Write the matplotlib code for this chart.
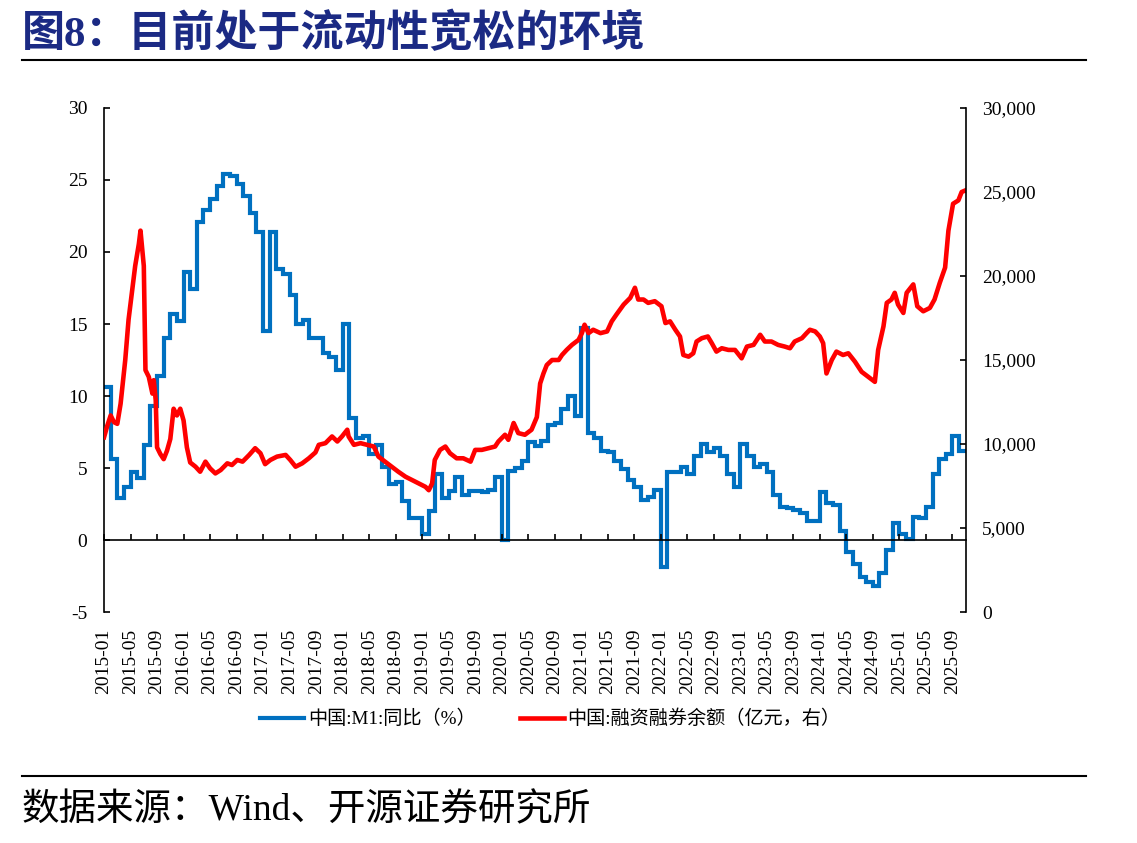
import matplotlib
matplotlib.use('Agg')
import matplotlib.pyplot as plt
from matplotlib.lines import Line2D
from matplotlib.ticker import FuncFormatter

plt.rcParams['font.family'] = ['Liberation Serif', 'Noto Sans CJK SC']
plt.rcParams['axes.unicode_minus'] = False

# 中国:M1:同比(%), monthly from 2015-01
m1_yoy = [
    10.6, 5.6, 2.9, 3.7, 4.7, 4.3, 6.6, 9.3, 11.4, 14.0, 15.7, 15.2,
    18.6, 17.4, 22.1, 22.9, 23.7, 24.6, 25.4, 25.3, 24.7, 23.9, 22.7, 21.4,
    14.5, 21.4, 18.8, 18.5, 17.0, 15.0, 15.3, 14.0, 14.0, 13.0, 12.7, 11.8,
    15.0, 8.5, 7.1, 7.2, 6.0, 6.6, 5.1, 3.9, 4.0, 2.7, 1.5, 1.5,
    0.4, 2.0, 4.6, 2.9, 3.4, 4.4, 3.1, 3.4, 3.4, 3.3, 3.5, 4.4,
    0.0, 4.8, 5.0, 5.5, 6.8, 6.5, 6.9, 8.0, 8.1, 9.1, 10.0, 8.6,
    14.7, 7.4, 7.1, 6.2, 6.1, 5.5, 4.9, 4.2, 3.7, 2.8, 3.0, 3.5,
    -1.9, 4.7, 4.7, 5.1, 4.6, 5.8, 6.7, 6.1, 6.4, 5.8, 4.6, 3.7,
    6.7, 5.8, 5.1, 5.3, 4.7, 3.1, 2.3, 2.2, 2.1, 1.9, 1.3, 1.3,
    3.3, 2.6, 2.4, 0.6, -0.8, -1.7, -2.6, -2.9, -3.2, -2.3, -0.7, 1.2,
    0.4, 0.1, 1.6, 1.5, 2.3, 4.6, 5.6, 6.0, 7.2, 6.2,
]

# 融资融券余额: time in months since 2015-01, value in 亿元
margin_t = [
    0.0, 0.5, 1.0, 1.5, 2.0, 2.5, 3.2, 3.7, 4.2, 4.7, 5.25, 5.5, 6.0, 6.25,
    6.75, 7.3, 7.5, 7.8, 8.0, 8.5, 9.0, 9.5, 10.0, 10.5, 11.0, 11.5, 12.0,
    12.5, 13.0, 13.8, 14.5, 15.3, 16.0, 16.8, 17.6, 18.6, 19.3, 20.1, 20.9,
    21.9, 22.8, 23.6, 24.3, 25.1, 26.1, 27.4, 28.1, 28.9, 29.9, 30.9, 31.9,
    32.4, 33.4, 34.4, 35.2, 35.9, 36.7, 36.9, 37.7, 38.7, 39.7, 40.7, 41.4,
    42.4, 43.4, 44.4, 45.5, 46.5, 47.5, 48.5, 49.0, 49.5, 49.9, 50.7, 51.5,
    52.2, 53.2, 54.2, 55.3, 56.0, 57.0, 58.0, 59.0, 59.5, 60.5, 61.0, 61.8,
    62.5, 63.5, 64.5, 65.3, 65.8, 66.3, 66.8, 67.6, 68.6, 69.1, 69.8, 70.6,
    71.6, 72.1, 72.5, 73.1, 73.8, 74.9, 75.9, 76.6, 77.3, 78.4, 79.4, 80.1,
    80.6, 81.4, 82.1, 83.1, 84.1, 84.7, 85.4, 86.2, 86.9, 87.4, 88.2, 88.9,
    89.4, 90.2, 91.1, 91.7, 92.4, 93.2, 94.2, 95.2, 96.2, 97.0, 98.0, 99.0,
    99.7, 100.7, 101.7, 102.7, 103.5, 104.2, 105.3, 106.0, 106.5, 107.3,
    108.0, 108.5, 109.0, 109.8, 110.5, 111.5, 112.3, 113.3, 114.3, 115.3,
    116.3, 116.8, 117.6, 118.1, 118.8, 119.3, 119.8, 120.6, 121.1, 122.1,
    122.7, 123.6, 124.6, 125.3, 126.1, 126.9, 127.4, 128.1, 128.9, 129.4, 130.0,
]
margin_v = [
    10400, 11100, 11700, 11300, 11200, 12400, 15000, 17400, 19000, 20600,
    21900, 22700, 20600, 14400, 14000, 13000, 13800, 12600, 9800, 9400, 9100,
    9600, 10300, 12100, 11700, 12100, 11400, 9800, 8900, 8650, 8350, 8950,
    8550, 8250, 8450, 8850, 8750, 9050, 8950, 9350, 9750, 9450, 8800, 9050,
    9250, 9350, 9050, 8650, 8850, 9150, 9500, 9950, 10050, 10450, 10150,
    10450, 10850, 10450, 9950, 10050, 9950, 9850, 9250, 8950, 8650, 8350,
    8050, 7850, 7650, 7450, 7250, 7650, 9050, 9650, 9850, 9450, 9150, 9150,
    8950, 9650, 9650, 9750, 9850, 10150, 10550, 10250, 11250, 10650, 10550,
    10850, 11600, 13600, 14200, 14700, 15000, 15000, 15300, 15600, 15900,
    16200, 16600, 17100, 16600, 16800, 16600, 16700, 17300, 17700, 18300,
    18700, 19300, 18600, 18600, 18400, 18500, 18200, 17200, 17300, 16800,
    16400, 15300, 15200, 15400, 16100, 16300, 16400, 16000, 15500, 15700,
    15600, 15600, 15100, 15800, 15900, 16500, 16100, 16100, 15900, 15800,
    15700, 16100, 16300, 16600, 16800, 16700, 16400, 16000, 14200, 15000,
    15500, 15300, 15400, 14900, 14300, 14000, 13700, 15600, 17000, 18400,
    18600, 19000, 18300, 17800, 19000, 19500, 18200, 17900, 18100, 18600,
    19600, 20500, 22700, 24300, 24500, 25000, 25100,
]

tick_pos = list(range(0, 129, 4))
tick_labels = ['%d-%02d' % (2015 + p // 12, p % 12 + 1) for p in tick_pos]

blue = '#0070C0'
red = '#FF0000'

fig = plt.figure(figsize=(11.37, 8.43), dpi=100)
ax = fig.add_axes([0.0915, 0.274, 0.7578, 0.5979])
ax2 = ax.twinx()

edges = list(range(len(m1_yoy) + 1))
ax.stairs(m1_yoy, edges, baseline=None, color=blue, lw=3.0)
ax2.plot(margin_t, margin_v, color=red, lw=3.3, solid_joinstyle='round')

ax.set_xlim(0, 130)
ax.set_ylim(-5, 30)
ax.set_yticks(range(-5, 31, 5))
ax2.set_ylim(0, 30000)
ax2.set_yticks(range(0, 30001, 5000))
ax2.yaxis.set_major_formatter(FuncFormatter(lambda v, p: '{:,.0f}'.format(v)))

for s in ['top', 'right']:
    ax.spines[s].set_visible(False)
for s in ['top', 'left', 'bottom']:
    ax2.spines[s].set_visible(False)
ax.spines['bottom'].set_position(('data', 0))
for sp in [ax.spines['left'], ax.spines['bottom'], ax2.spines['right']]:
    sp.set_linewidth(1.2)

ax.set_xticks(tick_pos)
ax.tick_params(axis='x', direction='in', length=4, width=1.2, labelbottom=False)
ax.tick_params(axis='y', direction='in', length=4, width=1.2, labelsize=14, pad=12)
ax2.tick_params(axis='y', direction='in', length=4, width=1.2, labelsize=14, pad=12)

sec = ax.secondary_xaxis('bottom')
sec.set_xticks(tick_pos, tick_labels, rotation=90, fontsize=14)
sec.tick_params(length=0, pad=12)
sec.spines['bottom'].set_visible(False)

handles = [Line2D([], [], color=blue, lw=3.0), Line2D([], [], color=red, lw=3.3)]
fig.legend(handles, ['中国:M1:同比（%）', '中国:融资融券余额（亿元，右）'],
           loc='center', bbox_to_anchor=(0.484, 0.147), ncol=2, frameon=False,
           fontsize=13.8, handlelength=2.3, handletextpad=0.2, columnspacing=2.3)

fig.text(0.019, 0.960, '图8：目前处于流动性宽松的环境', fontsize=31,
         fontweight='bold', color='#1B2A84', ha='left', va='center')
fig.add_artist(Line2D([0.019, 0.955], [0.929, 0.929], color='black', lw=1.5,
                      transform=fig.transFigure))
fig.add_artist(Line2D([0.019, 0.955], [0.0795, 0.0795], color='black', lw=1.5,
                      transform=fig.transFigure))
fig.text(0.019, 0.038, '数据来源：Wind、开源证券研究所', fontsize=27,
         ha='left', va='center')

fig.savefig('out.png', dpi=100)
